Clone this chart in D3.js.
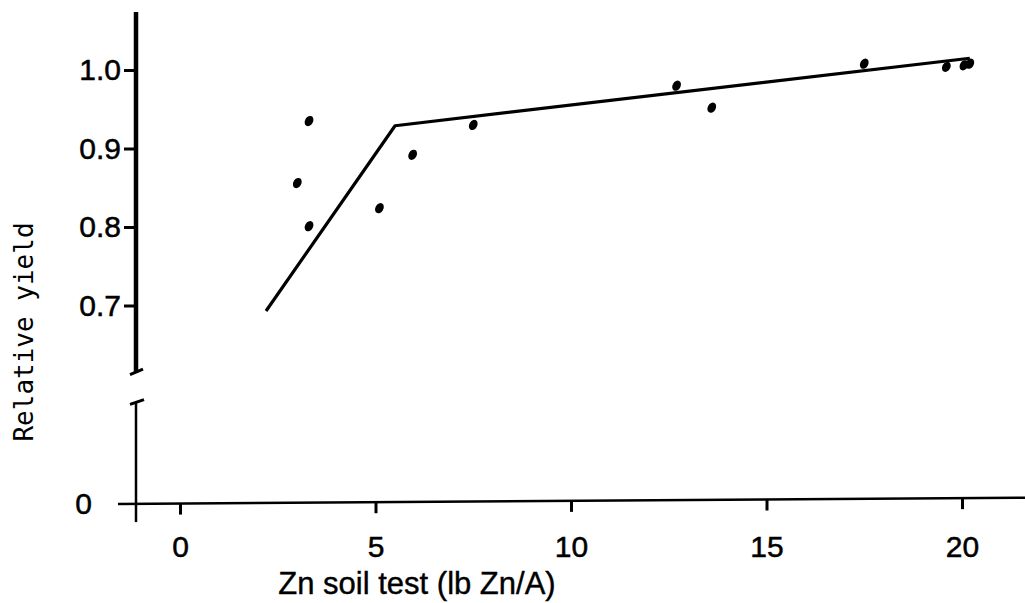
<!DOCTYPE html>
<html lang="en">
<head>
    <meta charset="UTF-8">
    <title>Relative yield vs Zn soil test</title>
    <style>
        body {
            margin: 0;
            background-color: #ffffff;
        }

        svg {
            display: block;
        }

        .tick text {
            font-family: "Liberation Sans", Arial, sans-serif;
            font-size: 30px;
            fill: #000;
            stroke: #000;
            stroke-width: 0.5px;
        }
    </style>
</head>
<body>
    <svg id="chart" width="1025" height="603"></svg>

    <script src="https://d3js.org/d3.v7.min.js"></script>
    <script>
        // Data
        const znSoil = [3.0, 3.3, 3.3, 5.1, 5.95, 7.5, 12.7, 13.6, 17.5, 19.6, 20.05, 20.2];
        const relYield = [0.856, 0.935, 0.801, 0.824, 0.892, 0.930, 0.980, 0.952, 1.008, 1.004, 1.006, 1.008];

        // Broken-stick fit line
        const fitX = [2.2, 5.5, 20.2];
        const fitY = [0.693, 0.929, 1.015];

        const xTicks = [0, 5, 10, 15, 20];
        const yTicks = [0.7, 0.8, 0.9, 1.0];
        const yLowTicks = [0];

        const svg = d3.select("#chart");

        // Scales: x runs past both ends, y is split into an upper and a lower piece
        const x = d3.scaleLinear().domain([0, 20]).range([180, 962]);
        const y = d3.scaleLinear().domain([0.7, 1.0]).range([305.5, 70]);
        const yLow = d3.scaleLinear().domain([0, 0.1]).range([504, 425.5]);

        const axisX = x.invert(136);

        // base line of the x axis runs slightly uphill in the scan
        const baseY = d3.scaleLinear().domain([118, 1025]).range([yLow(0), yLow(0.008)]);

        svg.append("line")
            .attr("x1", 118)
            .attr("x2", 1025)
            .attr("y1", baseY(118))
            .attr("y2", baseY(1025))
            .attr("stroke", "#000")
            .attr("stroke-width", 2.5);

        // x axis ticks and labels
        const gx = svg.append("g")
            .attr("transform", "translate(0,504)")
            .call(d3.axisBottom(x)
                .tickValues(xTicks)
                .tickSize(11)
                .tickPadding(21)
                .tickSizeOuter(0));
        gx.select(".domain").remove();
        gx.selectAll(".tick line")
            .attr("stroke", "#000")
            .attr("stroke-width", 3)
            .attr("y1", d => baseY(x(d)) - 504)
            .attr("y2", d => baseY(x(d)) - 504 + 11);

        // upper y axis segment
        svg.append("line")
            .attr("x1", x(axisX)).attr("x2", x(axisX))
            .attr("y1", y(1.074)).attr("y2", y(0.614))
            .attr("stroke", "#000")
            .attr("stroke-width", 4.5);

        const gy = svg.append("g")
            .attr("transform", "translate(134,0)")
            .call(d3.axisLeft(y)
                .tickValues(yTicks)
                .tickFormat(d3.format(".1f"))
                .tickSize(10)
                .tickPadding(3));
        gy.select(".domain").remove();
        gy.selectAll(".tick line").attr("stroke", "#000").attr("stroke-width", 3);

        // lower y axis segment
        svg.append("line")
            .attr("x1", x(axisX)).attr("x2", x(axisX))
            .attr("y1", yLow(0.13)).attr("y2", yLow(-0.023))
            .attr("stroke", "#000")
            .attr("stroke-width", 2.5);

        const gyLow = svg.append("g")
            .attr("transform", "translate(134,0)")
            .call(d3.axisLeft(yLow)
                .tickValues(yLowTicks)
                .tickFormat(d3.format("d"))
                .tickSize(0)
                .tickPadding(42));
        gyLow.select(".domain").remove();

        // break marks on the y axis
        svg.append("line")
            .attr("x1", 130).attr("y1", y(0.612))
            .attr("x2", 143).attr("y2", y(0.619))
            .attr("stroke", "#000").attr("stroke-width", 3);
        svg.append("line")
            .attr("x1", 130).attr("y1", yLow(0.127))
            .attr("x2", 144).attr("y2", yLow(0.133))
            .attr("stroke", "#000").attr("stroke-width", 3);

        // fitted line
        const line = d3.line()
            .x(d => x(d[0]))
            .y(d => y(d[1]));

        svg.append("path")
            .datum(d3.zip(fitX, fitY))
            .attr("d", line)
            .attr("fill", "none")
            .attr("stroke", "#000")
            .attr("stroke-width", 3.2)
            .attr("stroke-linejoin", "round");

        // data points (slightly smeared dots in the scan)
        svg.append("g")
            .selectAll("ellipse")
            .data(d3.zip(znSoil, relYield))
            .enter()
            .append("ellipse")
            .attr("cx", d => x(d[0]))
            .attr("cy", d => y(d[1]))
            .attr("rx", 4)
            .attr("ry", 5.4)
            .attr("transform", d => `rotate(30, ${x(d[0])}, ${y(d[1])})`)
            .attr("fill", "#000");

        // axis titles
        svg.append("text")
            .attr("x", 417)
            .attr("y", 594)
            .attr("text-anchor", "middle")
            .style("font-family", "'Liberation Sans', Arial, sans-serif")
            .style("font-size", "31px")
            .style("stroke", "#000")
            .style("stroke-width", "0.4px")
            .text("Zn soil test (lb Zn/A)");

        svg.append("text")
            .attr("transform", "translate(33,332) rotate(-90)")
            .attr("text-anchor", "middle")
            .style("font-family", "'DejaVu Sans Mono', monospace")
            .style("font-size", "26px")
            .text("Relative yield");
    </script>
</body>
</html>
